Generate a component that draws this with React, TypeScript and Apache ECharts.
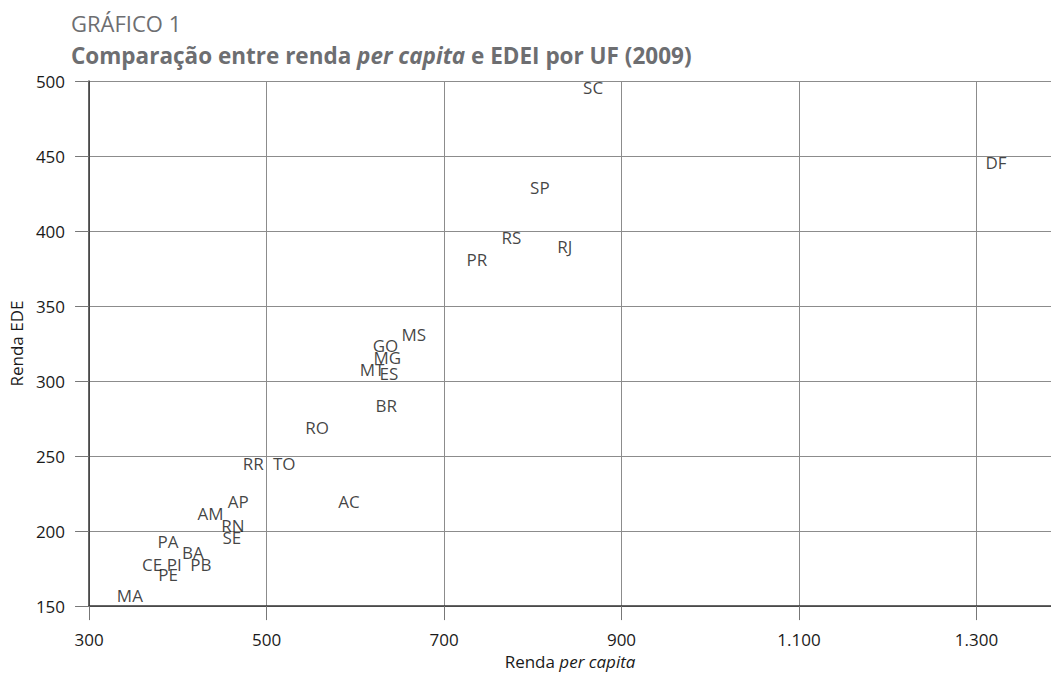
import React, { useEffect, useRef } from "react";
import * as echarts from "echarts";

const ufs = ["SC","DF","SP","RS","RJ","PR","MS","GO","MG","MT","ES","BR","RO","RR","TO","AC","AP","AM","RN","SE","PA","BA","CE","PI","PB","PE","MA"];
const rendaPerCapita = [868,1322,808,776,836,737,666,634,636,619,638,635,557,485,520,593,468,437,462,461,389,417,371,396,426,389,346];
const rendaEDE = [496,446,429,396,390,381,331,324,316,308,305,283.5,269,245,245,220,220,212,204,196,193,186,178,178,178,171,157];
const xTicks = [300, 500, 700, 900, 1100, 1300];

const FONT = "'Open Sans', 'Noto Sans', sans-serif";
const TITLE_COLOR = "#6d6e71";

export default function App() {
  const ref = useRef<HTMLDivElement>(null);
  useEffect(() => {
    if (!ref.current) return;
    const chart = echarts.init(ref.current, null, { renderer: "svg" });
    const data = ufs.map((n, i) => ({ name: n, value: [rendaPerCapita[i], rendaEDE[i]] }));
    chart.setOption({
      animation: false,
      backgroundColor: "#ffffff",
      title: [
        {
          left: 66,
          top: 5,
          text: "GRÁFICO 1",
          textStyle: { fontFamily: FONT, fontSize: 22, fontWeight: "normal", color: TITLE_COLOR, lineHeight: 26 },
        },
        {
          left: 66,
          top: 37,
          text: "{b|Comparação entre renda }{c|per capita}{b| e EDEI por UF (2009)}",
          textStyle: {
            rich: {
              b: { fontFamily: FONT, fontSize: 22.5, fontWeight: "bold", color: TITLE_COLOR, lineHeight: 26 },
              c: { fontFamily: FONT, fontSize: 22.5, fontWeight: "bold", fontStyle: "italic", color: TITLE_COLOR, lineHeight: 26 },
            },
          },
        },
      ],
      grid: { left: 89, right: 0, top: 81, bottom: 67, containLabel: false },
      xAxis: {
        type: "value",
        min: 300,
        max: 1384,
        name: "{n|Renda }{i|per capita}",
        nameLocation: "middle",
        nameGap: 46,
        nameTextStyle: {
          rich: {
            n: { fontFamily: FONT, fontSize: 17, color: "#1a1a1a" },
            i: { fontFamily: FONT, fontSize: 17, fontStyle: "italic", color: "#1a1a1a" },
          },
        },
        axisLine: { show: true, lineStyle: { color: "#333333", width: 1.5 } },
        axisTick: { show: true, length: 14, inside: false, customValues: xTicks, lineStyle: { color: "#777777" } },
        axisLabel: {
          customValues: xTicks,
          margin: 25,
          fontFamily: FONT,
          fontSize: 17,
          color: "#1a1a1a",
          formatter: (v: number) => (v >= 1000 ? Math.floor(v / 1000) + "." + String(v % 1000).padStart(3, "0") : String(v)),
        },
        splitLine: { show: true, lineStyle: { color: "#8c8c8c", width: 1 } },
      },
      yAxis: {
        type: "value",
        min: 150,
        max: 500,
        interval: 50,
        name: "Renda EDE",
        nameLocation: "middle",
        nameGap: 64,
        nameTextStyle: { fontFamily: FONT, fontSize: 17, color: "#1a1a1a" },
        axisLine: { show: true, lineStyle: { color: "#333333", width: 1.5 } },
        axisTick: { show: true, length: 14, lineStyle: { color: "#777777" } },
        axisLabel: { margin: 24, fontFamily: FONT, fontSize: 17, color: "#1a1a1a" },
        splitLine: { show: true, lineStyle: { color: "#8c8c8c", width: 1 } },
      },
      series: [
        {
          type: "scatter",
          data,
          symbolSize: 1,
          itemStyle: { color: "rgba(0,0,0,0)" },
          label: {
            show: true,
            position: "inside",
            formatter: "{b}",
            fontFamily: FONT,
            fontSize: 17,
            color: "#111111",
          },
          emphasis: { disabled: true },
        },
      ],
    });
    return () => chart.dispose();
  }, []);
  return <div ref={ref} style={{ position: "absolute", left: 0, top: 0, width: 1051, height: 675 }} />;
}
